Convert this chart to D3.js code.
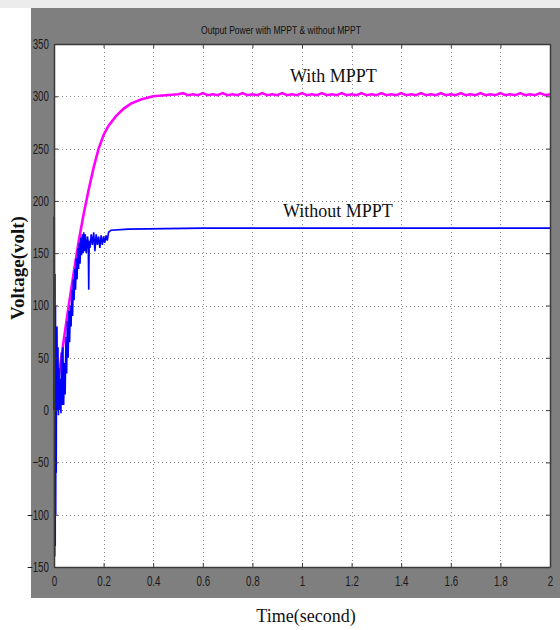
<!doctype html>
<html>
<head>
<meta charset="utf-8">
<style>
  body { margin: 0; background: #ffffff; }
  svg text { font-family: "Liberation Sans", "DejaVu Sans", sans-serif; }
  .serif { font-family: "Liberation Serif", "DejaVu Serif", serif !important; }
</style>
</head>
<body>
<div id="container"></div>
<script src="https://cdn.jsdelivr.net/npm/d3@7"></script>
<script>

    var chartTitle = "Output Power with MPPT & without MPPT";
    var xLabel = "Time(second)";
    var yLabel = "Voltage(volt)";

    var xTicks = [0, 0.2, 0.4, 0.6, 0.8, 1, 1.2, 1.4, 1.6, 1.8, 2];
    var yTicks = [-150, -100, -50, 0, 50, 100, 150, 200, 250, 300, 350];

    // with MPPT (magenta): rise then small ripple around ~302
    var withT = [0, 0.02, 0.04, 0.06, 0.08, 0.10, 0.12, 0.14, 0.16, 0.18, 0.20, 0.22, 0.25, 0.28, 0.31, 0.35, 0.40, 0.45, 0.50,
        0.52, 0.54, 0.56, 0.58, 0.60, 0.62, 0.64, 0.66, 0.68, 0.70, 0.72, 0.74, 0.76, 0.78, 0.80,
        0.82, 0.84, 0.86, 0.88, 0.90, 0.92, 0.94, 0.96, 0.98, 1.00, 1.02, 1.04, 1.06, 1.08, 1.10,
        1.12, 1.14, 1.16, 1.18, 1.20, 1.22, 1.24, 1.26, 1.28, 1.30, 1.32, 1.34, 1.36, 1.38, 1.40,
        1.42, 1.44, 1.46, 1.48, 1.50, 1.52, 1.54, 1.56, 1.58, 1.60, 1.62, 1.64, 1.66, 1.68, 1.70,
        1.72, 1.74, 1.76, 1.78, 1.80, 1.82, 1.84, 1.86, 1.88, 1.90, 1.92, 1.94, 1.96, 1.98, 2.00];
    var withV = [0, 34, 68, 101, 132, 162, 188, 211, 232, 250, 263, 272, 281, 288, 293, 297, 300, 301, 302,
        303, 301, 302, 301, 303, 301, 302, 301, 303, 301, 302, 301, 303, 301, 302,
        301, 303, 301, 302, 301, 303, 301, 302, 301, 303, 301, 302, 301, 303, 301,
        302, 301, 303, 301, 302, 301, 303, 301, 302, 301, 303, 301, 302, 301, 303,
        301, 302, 301, 303, 301, 302, 301, 303, 301, 302, 301, 303, 301, 302, 301,
        303, 301, 302, 301, 303, 301, 302, 301, 303, 301, 302, 301, 303, 301, 302];

    // without MPPT (blue): big spike at start, noisy rise, flat ~173
    var withoutT = [0, 0.001, 0.002, 0.003, 0.004, 0.005, 0.006, 0.007, 0.008, 0.009, 0.010, 0.012, 0.014, 0.016, 0.018,
        0.020, 0.022, 0.025, 0.028, 0.030, 0.033, 0.036, 0.039, 0.042, 0.045, 0.048, 0.051, 0.054,
        0.057, 0.060, 0.063, 0.066, 0.069, 0.072, 0.075, 0.078, 0.081, 0.084, 0.087, 0.090, 0.093,
        0.096, 0.099, 0.102, 0.105, 0.108, 0.111, 0.114, 0.117, 0.120, 0.123, 0.126, 0.130, 0.135,
        0.138, 0.140, 0.142, 0.145, 0.150, 0.155, 0.160, 0.165, 0.170, 0.175, 0.180, 0.185, 0.190,
        0.195, 0.200, 0.205, 0.210, 0.215, 0.220, 0.230, 0.300, 0.600, 1.000, 1.500, 2.000];
    var withoutV = [0, 185, 60, -140, 130, -130, 100, -100, 80, -60, 40, 80, 0, 60, -5,
        40, 0, 30, -3, 55, 5, 60, 5, 45, 15, 70, 35, 85,
        50, 95, 65, 100, 80, 115, 90, 125, 105, 135, 115, 145, 125,
        155, 135, 160, 140, 165, 148, 168, 150, 170, 152, 168, 150, 166,
        160, 115, 162, 155, 168, 158, 170, 152, 168, 158, 166, 155, 167,
        158, 166, 160, 167, 162, 170, 172, 173, 174, 174, 174, 174];

    var W = 560, H = 630;
    var plot = {left: 54, right: 550, top: 44, bottom: 567};

    var svg = d3.select("#container").append("svg")
        .attr("width", W)
        .attr("height", H);

    // window background
    svg.append("rect").attr("x", 0).attr("y", 0).attr("width", W).attr("height", 8).attr("fill", "#ececec");
    svg.append("rect").attr("x", 31).attr("y", 8).attr("width", W - 31).attr("height", 590).attr("fill", "#7f7f7f");

    var x = d3.scaleLinear().domain([0, 2]).range([plot.left, plot.right]);
    var y = d3.scaleLinear().domain([-150, 350]).range([plot.bottom, plot.top]);

    svg.append("rect")
        .attr("x", plot.left).attr("y", plot.top)
        .attr("width", plot.right - plot.left).attr("height", plot.bottom - plot.top)
        .attr("fill", "#ffffff");

    // grid
    var grid = svg.append("g").attr("stroke", "#8a8a8a").attr("stroke-width", 1)
        .attr("stroke-dasharray", "1,3").attr("shape-rendering", "crispEdges");
    grid.selectAll(".gx").data(xTicks.slice(1, -1)).enter().append("line")
        .attr("x1", function (d) { return Math.round(x(d)) + 0.5; })
        .attr("x2", function (d) { return Math.round(x(d)) + 0.5; })
        .attr("y1", plot.top).attr("y2", plot.bottom);
    grid.selectAll(".gy").data(yTicks.slice(1, -1)).enter().append("line")
        .attr("y1", function (d) { return Math.round(y(d)) + 0.5; })
        .attr("y2", function (d) { return Math.round(y(d)) + 0.5; })
        .attr("x1", plot.left).attr("x2", plot.right);

    // lines
    var line = d3.line()
        .x(function (d) { return x(d[0]); })
        .y(function (d) { return y(d[1]); });

    svg.append("path")
        .datum(d3.zip(withT, withV))
        .attr("d", line)
        .attr("fill", "none")
        .attr("stroke", "#ff00ff")
        .attr("stroke-width", 2.6);

    svg.append("path")
        .datum(d3.zip(withoutT, withoutV))
        .attr("d", line)
        .attr("fill", "none")
        .attr("stroke", "#0000ff")
        .attr("stroke-width", 1.6);

    // axes (matlab style ticks inside)
    var xAxisB = d3.axisBottom(x).tickValues(xTicks).tickSizeInner(-4).tickSizeOuter(0).tickPadding(9)
        .tickFormat(function (d) { return String(d); });
    var xAxisT = d3.axisTop(x).tickValues(xTicks).tickSizeInner(-4).tickSizeOuter(0).tickFormat("");
    var yAxisL = d3.axisLeft(y).tickValues(yTicks).tickSizeInner(-4).tickSizeOuter(0).tickPadding(5);
    var yAxisR = d3.axisRight(y).tickValues(yTicks).tickSizeInner(-4).tickSizeOuter(0).tickFormat("");

    [[xAxisB, "translate(0," + plot.bottom + ")"], [xAxisT, "translate(0," + plot.top + ")"],
     [yAxisL, "translate(" + plot.left + ",0)"], [yAxisR, "translate(" + plot.right + ",0)"]].forEach(function (a) {
        var g = svg.append("g").attr("transform", a[1]).call(a[0]);
        g.select(".domain").attr("stroke", "#3a3a3a").attr("stroke-width", 1.5);
        g.selectAll(".tick line").attr("stroke", "#3a3a3a");
        g.selectAll(".tick text")
            .attr("fill", "#1a1a1a")
            .attr("font-size", 14)
            .attr("transform", function () {
                // narrow matlab-like glyphs
                var tx = +d3.select(this).attr("x") || 0;
                return "translate(" + tx + ",0) scale(0.7,1) translate(" + (-tx) + ",0)";
            });
    });

    // title
    svg.append("text")
        .attr("transform", "translate(281,34) scale(0.78,1)")
        .attr("text-anchor", "middle")
        .attr("font-size", 11)
        .attr("fill", "#111")
        .text(chartTitle);

    // annotations
    svg.append("text").attr("class", "serif")
        .attr("x", 290).attr("y", 82).attr("font-size", 18).attr("fill", "#111")
        .text("With MPPT");
    svg.append("text").attr("class", "serif")
        .attr("x", 283).attr("y", 217).attr("font-size", 18).attr("fill", "#111")
        .text("Without MPPT");

    // axis labels
    svg.append("text").attr("class", "serif")
        .attr("x", 306).attr("y", 622)
        .attr("text-anchor", "middle")
        .attr("font-size", 18).attr("fill", "#111")
        .text(xLabel);

    svg.append("text").attr("class", "serif")
        .attr("transform", "translate(24,268) rotate(-90)")
        .attr("text-anchor", "middle")
        .attr("font-size", 19).attr("font-weight", "bold").attr("fill", "#111")
        .text(yLabel);

</script>
</body>
</html>
